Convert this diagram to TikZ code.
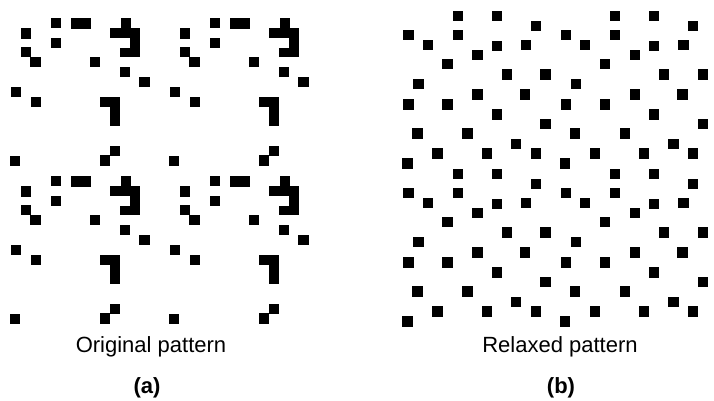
\documentclass[tikz,border=0pt]{standalone}
\usepackage{fontspec}
\setmainfont{Liberation Sans}

\begin{document}
\begin{tikzpicture}[
  x=1pt, y=-1pt,
  dot/.style={fill=black},
  caption/.style={font=\fontsize{22}{26}\selectfont, anchor=base},
  tag/.style={font=\fontsize{22}{26}\selectfont\bfseries, anchor=base}
]
\useasboundingbox (0,0) rectangle (714,400);

% (a) original pattern, one tile repeated 2x2
\foreach \dx in {0,159} {
  \foreach \dy in {0,158} {
    \begin{scope}[shift={(\dx,\dy)}]
      \foreach \x/\y in {55.8/22.7, 26/33.3, 55.8/42.7, 25.7/52.2, 35.3/61.7,
                         95/61.7, 125/71.7, 144.5/81.7, 15.7/91.7, 35.7/101.7,
                         15/161, 105/160.5, 115/151}
        \fill[dot] (\x-5.2,\y-5.2) rectangle ++(10.4,10.4);
      \fill[dot] (70.5,18.3) rectangle (90.9,28.5);
      \fill[dot] (120.5,18.1) rectangle (130.7,28.5);
      \fill[dot] (109.8,28.1) rectangle (140.2,37.7);
      \fill[dot] (129.8,28.1) rectangle (140.2,56.9);
      \fill[dot] (119.8,48.1) rectangle (140.2,56.9);
      \fill[dot] (99.8,96.5) rectangle (120.2,106.9);
      \fill[dot] (109.8,96.5) rectangle (120.2,126.2);
    \end{scope}
  }
}

% (b) relaxed pattern, one tile repeated 2x2
\foreach \dx in {0,157.5} {
  \foreach \dy in {0,158} {
    \begin{scope}[shift={(\dx,\dy)}]
      \foreach \x/\y in {457.7/15.7, 496.7/15.7, 535.7/25.7, 408.3/35, 457.7/35,
                         427.7/45, 496.7/46, 526/45, 477.3/55, 447.3/64,
                         506.7/74.3, 545.3/74.3, 418.3/84, 477.3/94.3, 525/94.3,
                         408.3/104.3, 447.3/104.3, 496.7/114.3, 545.3/124,
                         417.3/133.3, 467.3/133.3, 516/144, 437.3/153.3,
                         486.7/153.3, 535.7/153.3, 407.3/163.3}
        \fill[dot] (\x-5.2,\y-5.2) rectangle ++(10.4,10.4);
    \end{scope}
  }
}

\node[caption] (capa) at (151,352) {Original pattern};
\node[tag] (taga) at (147,393) {(a)};
\node[caption] (capb) at (560,352) {Relaxed pattern};
\node[tag] (tagb) at (561,393) {(b)};

\end{tikzpicture}
\end{document}
